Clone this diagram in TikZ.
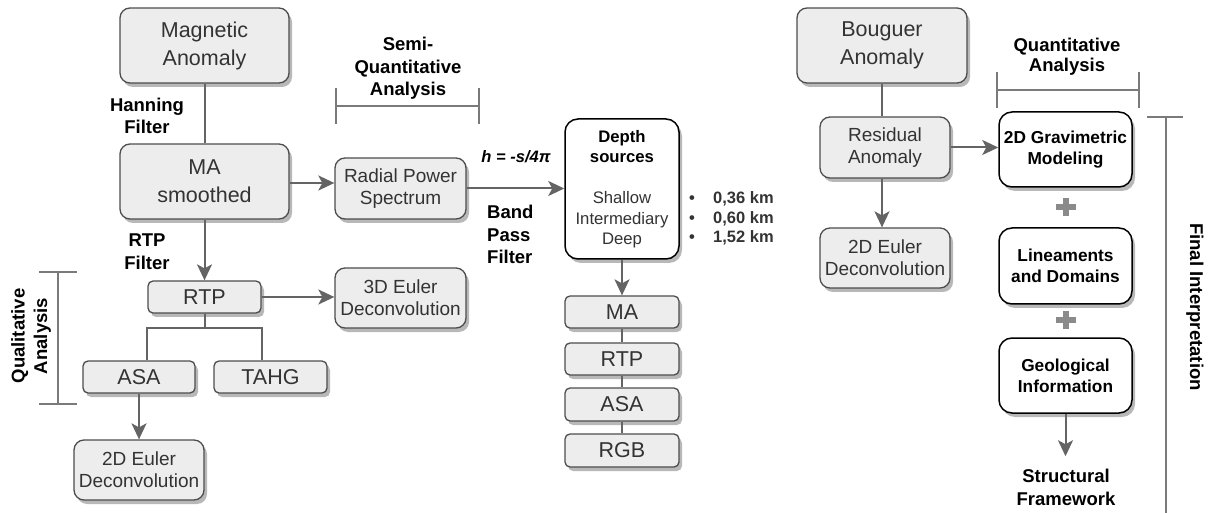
\documentclass[tikz,border=0pt]{standalone}
\usepackage{fontspec}
\setmainfont{Liberation Sans}
\usetikzlibrary{arrows.meta,shadows}
\definecolor{boxfill}{HTML}{EDEDED}
\definecolor{boxdraw}{HTML}{4D4D4D}
\definecolor{boxtext}{HTML}{333333}
\definecolor{linecol}{HTML}{646464}
\definecolor{brcol}{HTML}{7A7A7A}
\definecolor{pluscol}{HTML}{8A8A8A}
\tikzset{
  gbox/.style={draw=boxdraw, line width=1.3pt, fill=boxfill, rounded corners=10pt, text=boxtext,
    align=center, inner sep=0pt,
    drop shadow={shadow xshift=3pt, shadow yshift=-4pt, fill=black!28, opacity=1}},
  sbox/.style={gbox, rounded corners=5pt},
  wbox/.style={draw=black, line width=1.5pt, fill=white, rounded corners=13pt, text=black,
    align=center, inner sep=0pt,
    drop shadow={shadow xshift=3pt, shadow yshift=-4pt, fill=black!28, opacity=1}},
  big/.style={font=\fontsize{21.5}{28}\selectfont},
  mid/.style={font=\fontsize{19}{22}\selectfont},
  stk/.style={font=\fontsize{21.5}{24}\selectfont},
  lbl/.style={font=\bfseries\fontsize{18.5}{22.5}\selectfont, align=center, inner sep=0pt},
  wtxt/.style={font=\bfseries\fontsize{17.3}{21}\selectfont},
  conn/.style={draw=linecol, line width=2pt},
  arr/.style={conn, -{Stealth[length=16pt, width=15pt, inset=4pt]}},
  brk/.style={draw=brcol, line width=2pt},
  plus/.style={draw=pluscol, line width=6pt},
}
\begin{document}
\begin{tikzpicture}[x=1pt, y=-1pt]
\useasboundingbox (0,0) rectangle (1211,513);

% ---- Magnetic branch ----
\node[gbox, big, minimum width=169pt, minimum height=75pt] (mag) at (204.5,45.5) {Magnetic\\Anomaly};
\node[gbox, big, minimum width=169pt, minimum height=75pt] (mas) at (204.5,181.5) {MA\\smoothed};
\node[gbox, mid, minimum width=131pt, minimum height=61pt] (rps) at (400.5,188.5) {Radial Power\\Spectrum};
\node[wbox, minimum width=114pt, minimum height=140pt, font=\fontsize{16.7}{20.5}\selectfont, text=boxtext] (depth) at (622,189)
  {\textcolor{black}{\bfseries Depth}\\\textcolor{black}{\bfseries sources}\\[20.5pt]Shallow\\Intermediary\\Deep};
\node[sbox, stk, minimum width=114pt, minimum height=32pt] (ma2) at (622,312) {MA};
\node[sbox, stk, minimum width=114pt, minimum height=32pt] (rtp2) at (622,359) {RTP};
\node[sbox, stk, minimum width=114pt, minimum height=33pt] (asa2) at (622,404.5) {ASA};
\node[sbox, stk, minimum width=114pt, minimum height=33pt] (rgb) at (622,450.5) {RGB};

\node[sbox, stk, minimum width=113pt, minimum height=32pt] (rtp) at (204.5,297) {RTP};
\node[gbox, mid, minimum width=131pt, minimum height=60pt] (e3d) at (400.5,298) {3D Euler\\Deconvolution};
\node[sbox, stk, minimum width=112pt, minimum height=32pt] (asa) at (139,377) {ASA};
\node[sbox, stk, minimum width=113pt, minimum height=32pt] (tahg) at (270.5,377) {TAHG};
\node[gbox, mid, minimum width=130pt, minimum height=60pt] (e2d) at (139,470) {2D Euler\\Deconvolution};

% labels
\node[lbl] (hann) at (147,116) {Hanning\\Filter};
\node[lbl] (rtpf) at (147,251.5) {RTP\\Filter};
\node[lbl] (semi) at (408,68.5) {Semi-\\Quantitative\\Analysis};
\node[lbl, font=\bfseries\itshape\fontsize{16.5}{20}\selectfont] (hform) at (516,157) {h = -s/4π};
\node[lbl, align=left, anchor=west] (band) at (487,234.5) {Band\\Pass\\Filter};
\node[lbl, align=left, anchor=west, font=\bfseries\fontsize{16.5}{19.7}\selectfont, text=boxtext] (km) at (689,218.5)
  {\makebox[24pt][l]{\textbullet}0,36 km\\\makebox[24pt][l]{\textbullet}0,60 km\\\makebox[24pt][l]{\textbullet}1,52 km};
\node[lbl, rotate=90] (qual) at (31,336) {Qualitative\\Analysis};

% connectors
\draw[conn] (mag.south) -- (mas.north);
\draw[arr] (mas.east |- 0,183) -- (rps.west |- 0,183);
\draw[arr] (rps.east) -- (depth.west |- rps.east);
\draw[arr] (depth.south) -- (ma2.north);
\draw[conn] (ma2.south) -- (rtp2.north);
\draw[conn] (rtp2.south) -- (asa2.north);
\draw[conn] (asa2.south) -- (rgb.north);
\draw[arr] (mas.south) -- (rtp.north);
\draw[arr] (rtp.east) -- (e3d.west |- rtp.east);
\coordinate (tj) at (204.5,328);
\draw[conn] (rtp.south) -- (tj);
\draw[conn] (rtp.south west |- asa.north) -- (rtp.south west |- tj) -- (rtp.south east |- tj) -- (rtp.south east |- tahg.north);
\draw[arr] (asa.south) -- (e2d.north);

% brackets
\draw[brk] (336,106) -- (479,106) (336,88) -- (336,124) (479,88) -- (479,124);
\draw[brk] (58,272) -- (58,404) (39,272) -- (77,272) (39,404) -- (77,404);

% ---- Gravity branch ----
\node[gbox, big, minimum width=170pt, minimum height=75pt] (boug) at (882,45.5) {Bouguer\\Anomaly};
\node[gbox, mid, minimum width=130pt, minimum height=61pt] (res) at (885,147.5) {Residual\\Anomaly};
\node[gbox, mid, minimum width=130pt, minimum height=60pt] (e2dr) at (885,258) {2D Euler\\Deconvolution};
\node[wbox, wtxt, minimum width=133pt, minimum height=75pt] (grav) at (1065.5,149.5) {2D Gravimetric\\Modeling};
\node[wbox, wtxt, minimum width=133pt, minimum height=76pt] (lin) at (1065.5,266) {Lineaments\\and Domains};
\node[wbox, wtxt, minimum width=133pt, minimum height=75pt] (geo) at (1065.5,375.5) {Geological\\Information};
\node[lbl] (struct) at (1066,487.5) {Structural\\Framework};
\node[lbl, font=\bfseries\fontsize{18.5}{20}\selectfont] (quant) at (1067,57) {Quantitative\\Analysis};
\node[lbl, rotate=-90] (final) at (1195,307) {Final Interpretation};

\draw[conn] (boug.south) -- (boug.south |- res.north);
\draw[arr] (boug.south |- res.south) -- (boug.south |- e2dr.north);
\draw[arr] (res.east) -- (grav.west |- res.east);
\draw[arr, shorten >=13pt] (geo.south) -- (geo.south |- struct.north);

% plus signs
\draw[plus] (1056,207) -- (1076,207) (1066,198) -- (1066,216);
\draw[plus] (1056,320) -- (1076,320) (1066,311) -- (1066,329);

\draw[brk] (997,90) -- (1139,90) (997,72) -- (997,108) (1139,72) -- (1139,108);
\draw[brk] (1166,117) -- (1166,513) (1147,117) -- (1183,117);
\end{tikzpicture}
\end{document}
